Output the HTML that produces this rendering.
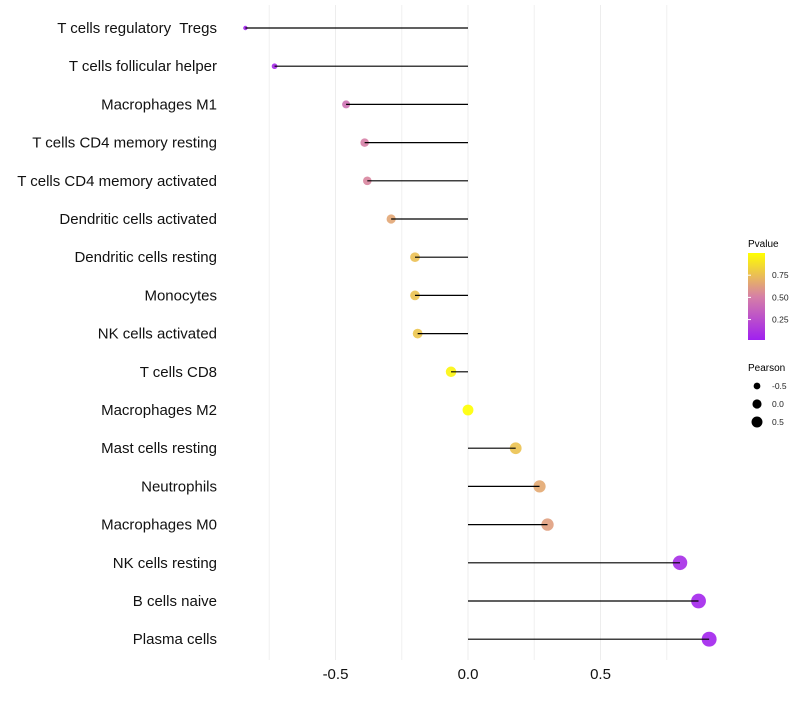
<!DOCTYPE html>
<html><head><meta charset="utf-8"><style>
body{margin:0;background:#fff;font-family:"Liberation Sans",sans-serif;}
svg text{font-family:"Liberation Sans",sans-serif;white-space:pre;}
</style></head><body>
<svg id="chart" width="800" height="700">
<defs><linearGradient id="pg" x1="0" y1="1" x2="0" y2="0">
<stop offset="0" stop-color="#a020f0"/><stop offset="0.5" stop-color="#d680a6"/><stop offset="1" stop-color="#ffff00"/></linearGradient></defs>
<g id="grid"></g>
<g id="marks"></g>
<g id="ylab"></g>
<g id="xlab"></g>
<g>
<text x="748" y="247" font-size="10">Pvalue</text>
<rect x="748" y="253" width="17" height="87" fill="url(#pg)"/>
<g id="cbticks"></g>
</g>
<g>
<text x="748" y="371" font-size="10">Pearson</text>
<g id="sizeleg"></g>
</g>
</svg>
<script>
const categories=["T cells regulatory  Tregs","T cells follicular helper","Macrophages M1","T cells CD4 memory resting","T cells CD4 memory activated","Dendritic cells activated","Dendritic cells resting","Monocytes","NK cells activated","T cells CD8","Macrophages M2","Mast cells resting","Neutrophils","Macrophages M0","NK cells resting","B cells naive","Plasma cells"];
const pearson=[-0.84,-0.73,-0.46,-0.39,-0.38,-0.29,-0.20,-0.20,-0.19,-0.064,0.0,0.18,0.27,0.30,0.80,0.87,0.91];
const pvalue=[0.02,0.05,0.42,0.5,0.52,0.65,0.75,0.76,0.77,0.96,1.0,0.76,0.66,0.62,0.06,0.03,0.02];
const xTicks=[-0.5,0,0.5];
const xTickLabels=["-0.5","0.0","0.5"];
const xMinor=[-0.75,-0.25,0.25,0.75];
const cbTicks=[0.25,0.5,0.75];
const sizeLegend=[-0.5,0,0.5];
const NS="http://www.w3.org/2000/svg";
const X=v=>468+v*265;
const Y=i=>28+i*38.2;
const R=v=>Math.sqrt(Math.max(2.5,29.4+29.2*v));
const CB=v=>340-(v-0.02)/0.98*87;
function col(p){const a=[160,32,240],m=[214,128,166],b=[255,255,0];let t,c0,c1;
 if(p<0.5){t=p/0.5;c0=a;c1=m}else{t=(p-0.5)/0.5;c0=m;c1=b}
 return "rgb("+c0.map((c,k)=>Math.round(c+(c1[k]-c)*t)).join(",")+")";}
function mk(tag,attrs,parent){const e=document.createElementNS(NS,tag);for(const k in attrs)e.setAttribute(k,attrs[k]);document.getElementById(parent).appendChild(e);return e;}
xMinor.forEach(v=>{const l=mk("line",{x1:X(v),x2:X(v),y1:5,y2:660,stroke:"#f0f0f0","stroke-width":1},"grid");

});
xTicks.forEach((v,i)=>{const l=mk("line",{x1:X(v),x2:X(v),y1:5,y2:660,stroke:"#ededed","stroke-width":1},"grid");


const t=mk("text",{x:X(v),y:679,"font-size":15,"text-anchor":"middle",fill:"#111"},"xlab");t.textContent=xTickLabels[i];

});
categories.forEach((c,i)=>{const v=pearson[i];
const d=mk("circle",{cx:X(v),cy:Y(i),r:R(v),fill:col(pvalue[i]),"fill-opacity":0.9},"marks");


const l=mk("line",{x1:X(0),x2:X(v),y1:Y(i),y2:Y(i),stroke:"#000","stroke-width":1.2},"marks");


const t=mk("text",{x:217,y:Y(i)+5,"font-size":15,"text-anchor":"end",fill:"#111"},"ylab");t.textContent=c;

});
cbTicks.forEach(v=>{const t=mk("text",{x:772,y:CB(v)+3,"font-size":8.5,fill:"#222"},"cbticks");t.textContent=v.toFixed(2);


const l=mk("line",{x1:748,x2:751,y1:CB(v),y2:CB(v),stroke:"#fff"},"cbticks");

});
sizeLegend.forEach((v,i)=>{const y=386+i*18;
const c=mk("circle",{cx:757,cy:y,r:R(v)*0.75+0.5,fill:"#000"},"sizeleg");


const t=mk("text",{x:772,y:y+3,"font-size":8.5,fill:"#222"},"sizeleg");t.textContent=v.toFixed(1);

});
</script>
</body></html>
